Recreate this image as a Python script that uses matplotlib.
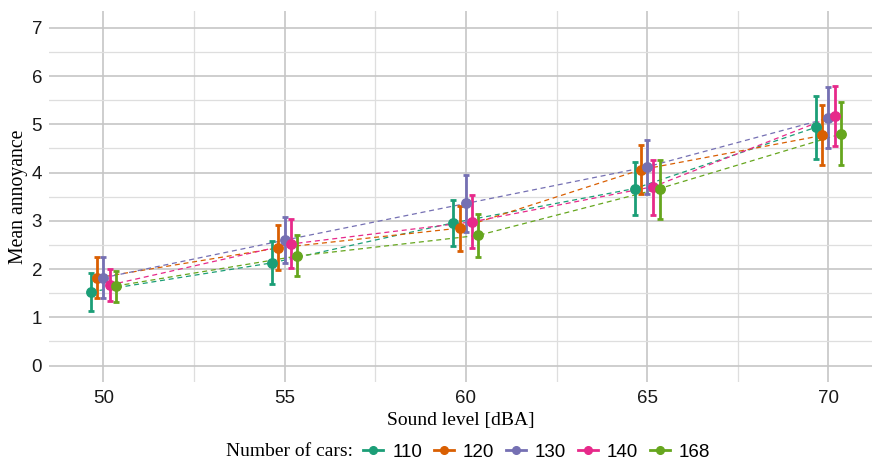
import numpy as np
import matplotlib
matplotlib.use("Agg")
import matplotlib.pyplot as plt
from matplotlib.lines import Line2D
from matplotlib.ticker import MultipleLocator

# ---- data ----
sound_levels = [50, 55, 60, 65, 70]
car_groups = ["110", "120", "130", "140", "168"]

mean_110 = [1.53, 2.13, 2.96, 3.67, 4.94]
low_110 = [1.14, 1.69, 2.48, 3.13, 4.29]
high_110 = [1.91, 2.58, 3.44, 4.22, 5.59]

mean_120 = [1.82, 2.44, 2.85, 4.06, 4.77]
low_120 = [1.40, 1.98, 2.38, 3.56, 4.15]
high_120 = [2.25, 2.91, 3.31, 4.57, 5.40]

mean_130 = [1.82, 2.60, 3.36, 4.12, 5.13]
low_130 = [1.40, 2.12, 2.76, 3.56, 4.50]
high_130 = [2.25, 3.09, 3.95, 4.67, 5.77]

mean_140 = [1.67, 2.52, 2.98, 3.71, 5.18]
low_140 = [1.34, 2.02, 2.43, 3.12, 4.56]
high_140 = [2.00, 3.04, 3.53, 4.27, 5.80]

mean_168 = [1.65, 2.27, 2.70, 3.67, 4.80]
low_168 = [1.32, 1.85, 2.25, 3.04, 4.16]
high_168 = [1.96, 2.70, 3.15, 4.27, 5.46]

means = [mean_110, mean_120, mean_130, mean_140, mean_168]
lows = [low_110, low_120, low_130, low_140, low_168]
highs = [high_110, high_120, high_130, high_140, high_168]

colors = ["#1B9E77", "#D95F02", "#7570B3", "#E7298A", "#66A61E"]

W, H = 872, 462
fig = plt.figure(figsize=(W / 100, H / 100), dpi=100)
ax = fig.add_axes([49 / W, (H - 382) / H, (872 - 49) / W, (382 - 11) / H])

dodge_step = 0.172
x_base = np.array(sound_levels, dtype=float)
n = len(car_groups)
for i, (m, lo, hi, c) in enumerate(zip(means, lows, highs, colors)):
    off = (i - (n - 1) / 2) * dodge_step
    x = x_base + off
    m = np.array(m); lo = np.array(lo); hi = np.array(hi)
    ax.plot(x, m, color=c, lw=0.9, dashes=(4, 3), zorder=3)
    ax.errorbar(x, m, yerr=[m - lo, hi - m], fmt="o", color=c, ecolor=c,
                elinewidth=2, capsize=2.5, capthick=2, markersize=6.8, zorder=4)

ax.set_xlim(48.5, 71.2)
ax.set_ylim(-0.34, 7.35)
ax.xaxis.set_major_locator(MultipleLocator(5))
ax.xaxis.set_minor_locator(MultipleLocator(2.5))
ax.yaxis.set_major_locator(MultipleLocator(1))
ax.yaxis.set_minor_locator(MultipleLocator(0.5))
ax.grid(which="major", color="#c6c6c6", lw=1.2)
ax.grid(which="minor", color="#dedede", lw=0.9)
ax.set_axisbelow(True)
for s in ax.spines.values():
    s.set_visible(False)
ax.tick_params(which="both", length=0, labelsize=13.5, labelcolor="#1a1a1a")
ax.tick_params(axis="y", pad=5)
ax.tick_params(axis="x", pad=6)
for lbl in ax.get_xticklabels() + ax.get_yticklabels():
    lbl.set_family("Liberation Sans")

fig.text((49 + 872) / 2 / W, 1 - 421 / H, "Sound level [dBA]", ha="center", va="center",
         family="Liberation Serif", fontsize=14, color="black")
fig.text(18 / W, 1 - 197 / H, "Mean annoyance", ha="center", va="center", rotation=90,
         family="Liberation Serif", fontsize=14.2, color="black")

fig.text(353 / W, 1 - 452 / H, "Number of cars:", ha="right", va="center",
         family="Liberation Serif", fontsize=14, color="black")
handles = [Line2D([], [], color=c, lw=2, marker="o", markersize=5.5) for c in colors]
leg = fig.legend(handles, car_groups, loc="center left", bbox_to_anchor=(363 / W, 1 - 452 / H),
                 ncol=5, frameon=False, handlelength=1.07, handletextpad=0.5,
                 columnspacing=0.6, borderaxespad=0, borderpad=0,
                 prop={"family": "Liberation Sans", "size": 13.5})

fig.savefig("out.png", dpi=100)
